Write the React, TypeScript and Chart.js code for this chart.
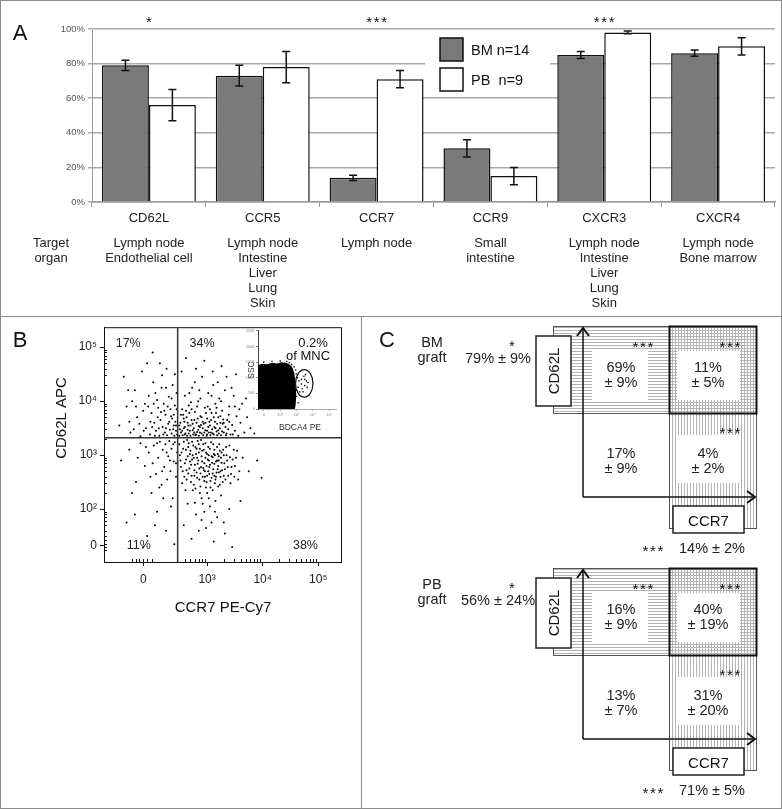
import React, { useEffect, useRef } from "react";
import { Chart, registerables } from "chart.js";

Chart.register(...registerables);

const FONT = '"Liberation Sans", Arial, Helvetica, sans-serif';

/* ---------------- Panel A data ---------------- */
const markers = ["CD62L", "CCR5", "CCR7", "CCR9", "CXCR3", "CXCR4"];
const bmMean = [79, 73, 14, 31, 85, 86];
const bmErr = [3, 6, 1.5, 5, 2, 1.8];
const pbMean = [56, 78, 71, 15, 98, 90];
const pbErr = [9, 9, 5, 5, 0.8, 5];
const seriesLabels = ["BM n=14", "PB  n=9"];
const significanceA = ["*", "", "***", "", "***", ""];
const targetOrgans = [
  ["Lymph node", "Endothelial cell"],
  ["Lymph node", "Intestine", "Liver", "Lung", "Skin"],
  ["Lymph node"],
  ["Small", "intestine"],
  ["Lymph node", "Intestine", "Liver", "Lung", "Skin"],
  ["Lymph node", "Bone marrow"],
];
const targetOrganTitle = ["Target", "organ"];

/* ---------------- Panel B data ---------------- */
// axis units: decades of the biexponential display
const flowXTickPos = [1.85, 3, 4, 5];
const flowXTickLabels = ["0", "10³", "10⁴", "10⁵"];
const flowYTickPos = [1.33, 2, 3, 4, 5];
const flowYTickLabels = ["0", "10²", "10³", "10⁴", "10⁵"];
const flowGate = [2.47, 3.32];
const quadrantPercents = ["17%", "34%", "11%", "38%"];
const flowXMinorNearZero = [1.64, 1.72, 1.78, 1.85, 1.92, 2.0];
const flowYMinorNearZero = [1.24, 1.29, 1.36, 1.42, 1.5];

type Pt = [number, number];
const flowUL: Pt[] = [
  [1.42, 3.55], [1.55, 3.9], [1.62, 3.42], [1.7, 4.2], [1.74, 3.7], [1.8, 3.35], [1.83, 4.55], [1.88, 3.95],
  [1.9, 3.5], [1.95, 4.1], [1.97, 3.38], [2.0, 3.78], [2.03, 4.35], [2.05, 3.6], [2.08, 3.45], [2.1, 4.02],
  [2.12, 3.88], [2.14, 3.36], [2.16, 3.65], [2.18, 4.25], [2.2, 3.52], [2.22, 3.95], [2.24, 3.42], [2.25, 3.75],
  [2.27, 4.6], [2.28, 3.37], [2.3, 3.58], [2.31, 4.08], [2.33, 3.47], [2.34, 3.85], [2.36, 3.4], [2.37, 3.68],
  [2.38, 4.3], [2.4, 3.55], [2.41, 3.36], [2.42, 3.92], [2.43, 3.62], [2.44, 3.45], [2.45, 4.15], [2.46, 3.38],
  [1.5, 4.45], [1.65, 4.0], [1.78, 3.58], [1.92, 4.7], [2.06, 3.36], [2.19, 4.48], [2.26, 3.5], [2.35, 3.72],
  [1.85, 3.82], [1.98, 3.62], [2.11, 3.7], [2.39, 3.48], [2.02, 4.9], [1.6, 3.62], [2.23, 3.82],
  [1.72, 3.9], [1.86, 3.45], [1.94, 3.9], [2.01, 3.52], [2.07, 4.15], [2.13, 3.5], [2.17, 3.8], [2.21, 3.38],
  [2.29, 3.9], [2.32, 3.62], [2.36, 4.05], [2.4, 3.75], [2.44, 3.55], [2.45, 3.85], [1.68, 3.48], [2.04, 3.95],
  [2.26, 4.25], [2.42, 4.5], [1.58, 4.2], [2.15, 4.7],
];
const flowUR: Pt[] = [
  [2.5, 3.36], [2.52, 3.6], [2.53, 3.42], [2.55, 3.85], [2.56, 3.37], [2.58, 3.5], [2.6, 4.1], [2.61, 3.4],
  [2.63, 3.7], [2.64, 3.36], [2.66, 3.55], [2.67, 3.92], [2.69, 3.45], [2.7, 3.36], [2.72, 3.65], [2.73, 4.25],
  [2.75, 3.38], [2.76, 3.5], [2.78, 3.8], [2.79, 3.37], [2.81, 3.6], [2.82, 3.43], [2.84, 4.0], [2.85, 3.36],
  [2.87, 3.52], [2.88, 3.72], [2.9, 3.4], [2.91, 4.45], [2.93, 3.37], [2.94, 3.58], [2.96, 3.88], [2.97, 3.46],
  [2.99, 3.36], [3.0, 3.68], [3.02, 4.15], [3.03, 3.42], [3.05, 3.55], [3.06, 3.37], [3.08, 3.78], [3.09, 3.48],
  [3.11, 4.3], [3.12, 3.38], [3.14, 3.62], [3.15, 3.95], [3.17, 3.44], [3.18, 3.37], [3.2, 3.7], [3.22, 4.05],
  [3.23, 3.5], [3.25, 3.37], [3.27, 3.82], [3.28, 3.58], [3.3, 3.42], [3.32, 4.2], [3.34, 3.37], [3.36, 3.65],
  [3.38, 3.48], [3.4, 3.9], [3.42, 3.38], [3.45, 3.56], [3.48, 4.1], [3.5, 3.45], [3.53, 3.72], [3.56, 3.36],
  [3.6, 3.6], [3.63, 3.95], [3.67, 3.42], [3.72, 3.7], [3.78, 3.5], [3.85, 3.4],
  [2.54, 4.55], [2.62, 4.8], [2.71, 3.98], [2.8, 4.6], [2.86, 4.2], [2.95, 4.75], [3.01, 3.9], [3.1, 4.55],
  [3.19, 4.35], [3.26, 4.65], [3.35, 4.45], [3.44, 4.25], [3.52, 4.5], [2.57, 3.75], [2.65, 3.47], [2.74, 3.58],
  [2.83, 3.68], [2.92, 3.5], [3.04, 3.62], [3.13, 3.52], [3.21, 3.4], [3.29, 3.66], [2.51, 3.48], [2.59, 3.62],
  [2.68, 3.78], [2.77, 3.42], [2.89, 3.56], [2.98, 3.78], [3.07, 3.42], [3.16, 3.78], [3.24, 3.6], [3.33, 3.52],
  [3.39, 3.75], [3.46, 3.38], [3.58, 3.85], [3.7, 4.05], [2.6, 3.52], [2.84, 3.47], [3.0, 3.45], [3.18, 3.58],
  [2.5, 3.55], [2.53, 3.75], [2.55, 3.45], [2.58, 3.68], [2.6, 3.38], [2.62, 3.82], [2.65, 3.6], [2.67, 3.4],
  [2.7, 3.55], [2.72, 3.85], [2.74, 3.46], [2.77, 3.65], [2.8, 3.38], [2.82, 3.9], [2.85, 3.54], [2.87, 3.42],
  [2.9, 3.7], [2.92, 3.62], [2.95, 3.42], [2.97, 3.6], [3.0, 3.38], [3.02, 3.52], [3.05, 3.85], [3.07, 3.65],
  [3.1, 3.4], [3.12, 3.7], [3.15, 3.5], [3.17, 3.88], [3.2, 3.46], [3.24, 3.72], [3.27, 3.44], [3.3, 3.6],
  [3.35, 3.4], [3.4, 3.62], [3.5, 3.9], [2.68, 4.15], [2.88, 4.05], [3.08, 4.1], [2.78, 4.35], [3.25, 4.0],
];
const flowLL: Pt[] = [
  [1.45, 2.9], [1.6, 3.1], [1.72, 2.5], [1.8, 3.22], [1.88, 2.8], [1.95, 3.05], [2.0, 2.3], [2.04, 3.18],
  [2.08, 2.65], [2.12, 2.95], [2.15, 3.25], [2.18, 2.45], [2.2, 3.1], [2.23, 2.78], [2.25, 3.2], [2.28, 2.55],
  [2.3, 2.98], [2.32, 3.26], [2.34, 2.7], [2.36, 3.12], [2.38, 2.2], [2.4, 2.88], [2.42, 3.24], [2.44, 2.6],
  [2.46, 3.05], [1.55, 1.75], [1.7, 1.9], [1.92, 1.5], [2.1, 1.95], [2.26, 1.6], [2.35, 2.05], [1.98, 2.6],
  [2.14, 2.4], [2.41, 1.35], [1.85, 1.3],
  [1.75, 2.95], [1.9, 3.15], [2.02, 2.85], [2.1, 3.22], [2.19, 2.7], [2.27, 3.05], [2.33, 2.9], [2.39, 3.2],
  [2.44, 2.85], [2.21, 2.2], [2.06, 1.7], [1.65, 2.3],
];
const flowLR: Pt[] = [
  [2.5, 3.2], [2.52, 2.9], [2.54, 3.05], [2.56, 2.7], [2.58, 3.25], [2.6, 2.85], [2.62, 3.1], [2.63, 2.55],
  [2.65, 2.98], [2.67, 3.22], [2.68, 2.75], [2.7, 3.08], [2.72, 2.62], [2.73, 2.92], [2.75, 3.18], [2.76, 2.45],
  [2.78, 2.82], [2.8, 3.02], [2.81, 2.68], [2.83, 3.26], [2.84, 2.9], [2.86, 2.55], [2.87, 3.12], [2.89, 2.78],
  [2.9, 2.98], [2.92, 2.6], [2.93, 3.2], [2.95, 2.85], [2.96, 2.7], [2.98, 3.05], [2.99, 2.5], [3.01, 2.92],
  [3.02, 3.15], [3.04, 2.65], [3.05, 2.82], [3.07, 3.24], [3.08, 2.58], [3.1, 2.96], [3.11, 2.74], [3.13, 3.1],
  [3.14, 2.48], [3.16, 2.88], [3.17, 2.68], [3.19, 3.02], [3.2, 2.8], [3.22, 3.2], [3.24, 2.6], [3.25, 2.95],
  [3.27, 2.72], [3.29, 3.1], [3.31, 2.85], [3.33, 2.55], [3.35, 3.0], [3.37, 2.78], [3.4, 3.18], [3.43, 2.65],
  [3.46, 2.92], [3.5, 2.8], [3.54, 3.08], [3.58, 2.7],
  [2.55, 2.48], [2.61, 2.35], [2.66, 3.15], [2.71, 2.5], [2.74, 3.0], [2.79, 2.38], [2.82, 2.95], [2.85, 3.2],
  [2.88, 2.42], [2.91, 3.08], [2.94, 2.72], [2.97, 2.95], [3.0, 2.62], [3.03, 3.0], [3.06, 2.4], [3.09, 2.86],
  [3.12, 3.02], [3.15, 2.55], [3.18, 2.9], [3.21, 2.68], [3.23, 2.45], [3.26, 3.05], [3.3, 2.62], [3.36, 2.9],
  [3.42, 2.48], [3.48, 3.1], [3.56, 2.55], [3.64, 2.95], [3.75, 2.7], [3.9, 2.9], [3.98, 2.58], [2.69, 2.88],
  [2.77, 2.62], [2.86, 2.75], [2.95, 2.52], [3.04, 2.78], [3.13, 2.62], [3.21, 2.98], [2.63, 2.72], [2.81, 3.12],
  [2.65, 2.1], [2.8, 1.9], [2.9, 2.2], [2.98, 1.65], [3.05, 2.05], [3.12, 1.4], [3.18, 1.85], [3.25, 2.25],
  [3.32, 1.55], [3.4, 2.0], [2.72, 1.45], [2.95, 1.95], [3.08, 1.75], [3.45, 1.3], [2.58, 1.7], [3.0, 2.3],
  [3.15, 2.15], [2.85, 1.6], [3.6, 2.15], [3.3, 1.75],
  [2.51, 3.0], [2.53, 2.78], [2.57, 3.12], [2.59, 2.6], [2.62, 2.92], [2.64, 3.28], [2.66, 2.66], [2.69, 3.02],
  [2.71, 2.82], [2.73, 3.25], [2.76, 2.95], [2.77, 2.72], [2.79, 3.15], [2.82, 2.58], [2.83, 2.84], [2.85, 3.05],
  [2.88, 2.66], [2.89, 3.28], [2.91, 2.88], [2.93, 2.76], [2.94, 3.1], [2.96, 2.6], [2.97, 3.22], [2.99, 2.8],
  [3.0, 3.02], [3.02, 2.7], [3.03, 2.9], [3.05, 3.12], [3.06, 2.52], [3.08, 2.98], [3.1, 2.66], [3.11, 3.2],
  [3.13, 2.84], [3.14, 3.0], [3.16, 2.6], [3.18, 3.15], [3.19, 2.74], [3.21, 2.9], [3.23, 3.08], [3.24, 2.7],
  [3.26, 2.86], [3.28, 2.5], [3.3, 3.0], [3.32, 2.74], [3.34, 3.15], [3.38, 2.62], [3.41, 2.96], [3.44, 2.78],
  [3.49, 2.6], [3.52, 2.95], [2.74, 2.35], [2.87, 2.3], [2.98, 2.4], [3.1, 2.35], [3.2, 2.42], [2.92, 2.1],
  [3.03, 2.2], [2.78, 2.12], [3.14, 1.95], [2.9, 1.8],
];

/* inset (BDCA4 PE vs SSC) */
const insetXTickPos = [1, 2, 3, 4, 5];
const insetXTickLabels = ["0", "10²", "10³", "10⁴", "10⁵"];
const insetYTicks = [0, 50, 100, 150, 200, 250];
const insetBlobX = [0.65, 0.65, 0.9, 1.2, 1.5, 1.8, 2.1, 2.4, 2.6, 2.75, 2.85, 2.9, 2.95, 2.98, 2.95, 2.9, 0.65];
const insetBlobY = [0, 140, 145, 143, 148, 146, 150, 147, 142, 132, 118, 100, 75, 45, 15, 0, 0];
const insetDots: Pt[] = [
  [2.95, 125], [3.05, 100], [3.1, 70], [3.0, 40], [2.98, 112], [3.15, 90], [3.1, 20], [2.85, 135],
  [2.7, 142], [2.4, 152], [2.0, 154], [1.5, 153], [1.0, 150], [3.2, 55], [2.55, 148], [3.02, 60],
  [3.3, 95], [3.45, 105], [3.6, 90], [3.5, 75], [3.35, 65], [3.65, 70], [3.55, 110], [3.4, 55],
  [3.7, 85], [3.3, 80], [3.5, 95],
];
const insetGateCenter = [3.47, 82];
const insetGateRadius = [0.53, 44];
const insetGateText = ["0.2%", "of MNC"];

/* ---------------- Panel C data ---------------- */
const cGroups = [["BM", "graft"], ["PB", "graft"]];
const cCD62LTotal: Pt[] = [[79, 9], [56, 24]];
const cCCR7Total: Pt[] = [[14, 2], [71, 5]];
const cCD62LOnly: Pt[] = [[69, 9], [16, 9]];
const cDoublePos: Pt[] = [[11, 5], [40, 19]];
const cCCR7Only: Pt[] = [[4, 2], [31, 20]];
const cDoubleNeg: Pt[] = [[17, 9], [13, 7]];
const cSigCD62LTotal = ["*", "*"];
const cSigQuadrants = ["***", "***"];
const cSigCCR7Total = ["***", "***"];

/* ---------------- helpers ---------------- */
function drawStars(ctx: any, text: string, cx: number, cy: number, size = 15, gap = 7.5) {
  const n = text.length;
  ctx.font = `${size}px ${FONT}`;
  ctx.textAlign = "center";
  ctx.textBaseline = "alphabetic";
  for (let k = 0; k < n; k++) ctx.fillText("*", cx + (k - (n - 1) / 2) * gap, cy + size * 0.58);
}

function ChartCanvas({ left, top, width, height, make }: any) {
  const ref = useRef<HTMLCanvasElement>(null);
  useEffect(() => {
    const chart = new Chart(ref.current as HTMLCanvasElement, make());
    return () => chart.destroy();
  }, []);
  return (
    <canvas
      ref={ref}
      width={width}
      height={height}
      style={{ position: "absolute", left, top, width, height }}
    />
  );
}

/* ---------------- Panel A chart ---------------- */
function makeBarConfig(): any {
  const errs = [bmErr, pbErr];
  const decor = {
    id: "decorA",
    afterDatasetsDraw(chart: any) {
      const { ctx } = chart;
      const y = chart.scales.y;
      const x = chart.scales.x;
      ctx.save();
      ctx.strokeStyle = "#111";
      ctx.lineWidth = 1.5;
      chart.data.datasets.forEach((ds: any, di: number) => {
        const meta = chart.getDatasetMeta(di);
        meta.data.forEach((bar: any, i: number) => {
          const v = ds.data[i];
          const e = errs[di][i];
          const px = bar.x;
          const yt = y.getPixelForValue(v + e);
          const yb = y.getPixelForValue(v - e);
          ctx.beginPath();
          ctx.moveTo(px, yt);
          ctx.lineTo(px, yb);
          ctx.moveTo(px - 4, yt);
          ctx.lineTo(px + 4, yt);
          ctx.moveTo(px - 4, yb);
          ctx.lineTo(px + 4, yb);
          ctx.stroke();
        });
      });
      // legend
      ctx.fillStyle = "#fff";
      ctx.fillRect(425, 31, 125, 66);
      chart.data.datasets.forEach((ds: any, di: number) => {
        const by = 38 + di * 30;
        ctx.fillStyle = ds.backgroundColor;
        ctx.fillRect(440, by, 23, 23);
        ctx.lineWidth = 1.5;
        ctx.strokeStyle = "#111";
        ctx.strokeRect(440, by, 23, 23);
        ctx.fillStyle = "#111";
        ctx.font = `14.5px ${FONT}`;
        ctx.textAlign = "left";
        ctx.textBaseline = "middle";
        ctx.fillText(ds.label, 471, by + 13);
      });
      // significance
      ctx.fillStyle = "#111";
      significanceA.forEach((s, i) => {
        if (s) drawStars(ctx, s, x.getPixelForValue(i), 18, 15, 7.5);
      });
      // target organs
      ctx.font = `13px ${FONT}`;
      ctx.textAlign = "center";
      ctx.textBaseline = "middle";
      ctx.fillStyle = "#222";
      targetOrgans.forEach((lines, i) => {
        const px = x.getPixelForValue(i);
        lines.forEach((t, k) => ctx.fillText(t, px, 243 + k * 15));
      });
      targetOrganTitle.forEach((t, k) => ctx.fillText(t, 51, 243 + k * 15));
      ctx.restore();
    },
  };
  return {
    type: "bar",
    data: {
      labels: markers,
      datasets: [
        { label: seriesLabels[0], data: bmMean, backgroundColor: "#7a7a7a", borderColor: "#111", borderWidth: 1.5 },
        { label: seriesLabels[1], data: pbMean, backgroundColor: "#ffffff", borderColor: "#111", borderWidth: 1.5 },
      ],
    },
    options: {
      animation: false,
      responsive: false,
      events: [],
      layout: { padding: { top: 29, right: 7, left: 0, bottom: 0 } },
      datasets: { bar: { categoryPercentage: 0.825, barPercentage: 1 } },
      plugins: { legend: { display: false }, tooltip: { enabled: false } },
      scales: {
        x: {
          grid: { display: true, drawOnChartArea: false, offset: true, color: "#999", tickLength: 5, lineWidth: 1 },
          border: { color: "#999", width: 1.5 },
          ticks: { font: { family: FONT, size: 13 }, color: "#222", padding: 4, maxRotation: 0, autoSkip: false },
          afterFit: (s: any) => {
            s.height = 114;
          },
        },
        y: {
          min: 0,
          max: 100,
          ticks: {
            stepSize: 20,
            callback: (v: any) => v + "%",
            font: { family: FONT, size: 9.5 },
            color: "#555",
            padding: 3,
          },
          grid: { color: "#a9a9a9", lineWidth: 1.5, tickLength: 4 },
          border: { color: "#999", width: 1 },
          afterFit: (s: any) => {
            s.width = 92;
          },
        },
      },
    },
    plugins: [decor],
  };
}

/* ---------------- Panel B chart ---------------- */
function makeFlowConfig(): any {
  const minorSteps = [2, 3, 4, 5, 6, 7, 8, 9];
  const xMinor: number[] = [...flowXMinorNearZero];
  [4, 5, 6, 7, 8, 9].forEach((k) => xMinor.push(2 + Math.log10(k)));
  [3, 4].forEach((d) => minorSteps.forEach((k) => xMinor.push(d + Math.log10(k))));
  const yMinor: number[] = [...flowYMinorNearZero];
  [4, 5, 6, 7, 8, 9].forEach((k) => yMinor.push(1 + Math.log10(k)));
  [2, 3, 4].forEach((d) => minorSteps.forEach((k) => yMinor.push(d + Math.log10(k))));

  const decor = {
    id: "decorB",
    afterDraw(chart: any) {
      const { ctx, chartArea: a } = chart;
      const { x, y } = chart.scales;
      ctx.save();
      ctx.strokeStyle = "#111";
      ctx.lineWidth = 1;
      ctx.beginPath();
      ctx.moveTo(a.left, a.top + 0.5);
      ctx.lineTo(a.right + 0.5, a.top + 0.5);
      ctx.lineTo(a.right + 0.5, a.bottom);
      ctx.stroke();
      // minor ticks
      ctx.beginPath();
      xMinor.forEach((v) => {
        const px = Math.round(x.getPixelForValue(v)) + 0.5;
        ctx.moveTo(px, a.bottom);
        ctx.lineTo(px, a.bottom - 3);
      });
      yMinor.forEach((v) => {
        const py = Math.round(y.getPixelForValue(v)) + 0.5;
        ctx.moveTo(a.left, py);
        ctx.lineTo(a.left + 3, py);
      });
      ctx.stroke();
      // gates
      ctx.strokeStyle = "#333";
      ctx.lineWidth = 1.5;
      const gx = x.getPixelForValue(flowGate[0]);
      const gy = y.getPixelForValue(flowGate[1]);
      ctx.beginPath();
      ctx.moveTo(gx, a.top);
      ctx.lineTo(gx, a.bottom);
      ctx.moveTo(a.left, gy);
      ctx.lineTo(a.right, gy);
      ctx.stroke();
      // quadrant labels
      ctx.fillStyle = "#222";
      ctx.font = `12.5px ${FONT}`;
      ctx.textAlign = "center";
      ctx.textBaseline = "middle";
      const spots: Pt[] = [[1.58, 5.07], [2.91, 5.07], [1.77, 1.33], [4.77, 1.33]];
      spots.forEach(([vx, vy], i) => ctx.fillText(quadrantPercents[i], x.getPixelForValue(vx), y.getPixelForValue(vy)));
      // axis titles
      ctx.font = `15px ${FONT}`;
      ctx.fillStyle = "#111";
      ctx.fillText("CCR7 PE-Cy7", (a.left + a.right) / 2 + 0.5, 291);
      ctx.translate(62, 101);
      ctx.rotate(-Math.PI / 2);
      ctx.fillText("CD62L APC", 0, 0);
      ctx.restore();
    },
  };

  const allPts = [...flowUL, ...flowUR, ...flowLL, ...flowLR];
  return {
    type: "scatter",
    data: {
      datasets: [
        {
          data: allPts.map(([px, py]) => ({ x: px, y: py })),
          pointRadius: 1,
          pointBorderWidth: 0,
          pointBackgroundColor: "#000",
        },
      ],
    },
    options: {
      animation: false,
      responsive: false,
      events: [],
      layout: { padding: { top: 10, right: 20, left: 0, bottom: 0 } },
      plugins: { legend: { display: false }, tooltip: { enabled: false } },
      scales: {
        x: {
          type: "linear",
          min: 1.144,
          max: 5.41,
          afterBuildTicks: (s: any) => {
            s.ticks = flowXTickPos.map((v) => ({ value: v }));
          },
          ticks: {
            callback: (v: any) => flowXTickLabels[flowXTickPos.indexOf(v)],
            font: { family: FONT, size: 12 },
            color: "#222",
            padding: 6,
            maxRotation: 0,
            autoSkip: false,
          },
          grid: { display: true, drawOnChartArea: false, color: "#111", tickLength: 4 },
          border: { display: true, color: "#111", width: 1 },
          afterFit: (s: any) => {
            s.height = 247;
          },
        },
        y: {
          type: "linear",
          min: 1.02,
          max: 5.37,
          afterBuildTicks: (s: any) => {
            s.ticks = flowYTickPos.map((v) => ({ value: v }));
          },
          ticks: {
            callback: (v: any) => flowYTickLabels[flowYTickPos.indexOf(v)],
            font: { family: FONT, size: 12 },
            color: "#222",
            padding: 3,
            autoSkip: false,
          },
          grid: { display: true, drawOnChartArea: false, color: "#111", tickLength: 4 },
          border: { display: true, color: "#111", width: 1 },
          afterFit: (s: any) => {
            s.width = 104;
          },
        },
      },
    },
    plugins: [decor],
  };
}

/* ---------------- Inset chart ---------------- */
function makeInsetConfig(): any {
  const decor = {
    id: "decorInset",
    beforeDraw(chart: any) {
      const { ctx, chartArea: a } = chart;
      ctx.save();
      ctx.fillStyle = "#fff";
      ctx.fillRect(a.left, a.top, chart.width - a.left, chart.height - a.top);
      ctx.restore();
    },
    beforeDatasetsDraw(chart: any) {
      const { ctx } = chart;
      const { x, y } = chart.scales;
      ctx.save();
      ctx.fillStyle = "#000";
      ctx.beginPath();
      insetBlobX.forEach((vx, i) => {
        const px = x.getPixelForValue(vx);
        const py = y.getPixelForValue(insetBlobY[i]);
        if (i === 0) ctx.moveTo(px, py);
        else ctx.lineTo(px, py);
      });
      ctx.closePath();
      ctx.fill();
      ctx.restore();
    },
    afterDraw(chart: any) {
      const { ctx } = chart;
      const { x, y } = chart.scales;
      ctx.save();
      const cx = x.getPixelForValue(insetGateCenter[0]);
      const cy = y.getPixelForValue(insetGateCenter[1]);
      const rx = Math.abs(x.getPixelForValue(insetGateCenter[0] + insetGateRadius[0]) - cx);
      const ry = Math.abs(y.getPixelForValue(insetGateCenter[1] + insetGateRadius[1]) - cy);
      ctx.strokeStyle = "#111";
      ctx.lineWidth = 1.2;
      ctx.beginPath();
      ctx.ellipse(cx, cy, rx, ry, 0, 0, Math.PI * 2);
      ctx.stroke();
      ctx.fillStyle = "#111";
      ctx.font = `13px ${FONT}`;
      ctx.textAlign = "center";
      ctx.textBaseline = "middle";
      ctx.fillText(insetGateText[0], 67, 17);
      ctx.fillText(insetGateText[1], 62, 30);
      ctx.font = `8.5px ${FONT}`;
      ctx.fillStyle = "#333";
      ctx.fillText("BDCA4 PE", 54, 102);
      ctx.translate(6, 44);
      ctx.rotate(-Math.PI / 2);
      ctx.fillText("SSC", 0, 0);
      ctx.restore();
    },
  };
  return {
    type: "scatter",
    data: {
      datasets: [
        {
          data: insetDots.map(([px, py]) => ({ x: px, y: py })),
          pointRadius: 0.8,
          pointBorderWidth: 0,
          pointBackgroundColor: "#000",
        },
      ],
    },
    options: {
      animation: false,
      responsive: false,
      events: [],
      layout: { padding: { top: 3, right: 1, left: 0, bottom: 0 } },
      plugins: { legend: { display: false }, tooltip: { enabled: false } },
      scales: {
        x: {
          type: "linear",
          min: 0.647,
          max: 5.41,
          afterBuildTicks: (s: any) => {
            s.ticks = insetXTickPos.map((v) => ({ value: v }));
          },
          ticks: {
            callback: (v: any) => insetXTickLabels[insetXTickPos.indexOf(v)],
            font: { family: FONT, size: 4 },
            color: "#888",
            padding: 1,
            maxRotation: 0,
            autoSkip: false,
          },
          grid: { display: true, drawOnChartArea: false, color: "#aaa", tickLength: 2 },
          border: { display: true, color: "#aaa", width: 1 },
          afterFit: (s: any) => {
            s.height = 24;
          },
        },
        y: {
          type: "linear",
          min: 0,
          max: 253,
          afterBuildTicks: (s: any) => {
            s.ticks = insetYTicks.map((v) => ({ value: v }));
          },
          ticks: {
            callback: (v: any) => (v === 0 ? "0" : v + "K"),
            font: { family: FONT, size: 4 },
            color: "#888",
            padding: 1,
            autoSkip: false,
          },
          grid: { display: true, drawOnChartArea: false, color: "#888", tickLength: 2 },
          border: { display: true, color: "#444", width: 1 },
          afterFit: (s: any) => {
            s.width = 12;
          },
        },
      },
    },
    plugins: [decor],
  };
}

/* ---------------- Panel C (schematic) ---------------- */
const fmtPct = (p: Pt) => [`${p[0]}%`, `± ${p[1]}%`];

function Stars({ x, y, text }: { x: number; y: number; text: string }) {
  const n = text.length;
  return (
    <g>
      {Array.from(text).map((_, k) => (
        <text key={k} x={x + (k - (n - 1) / 2) * 7.5} y={y + 8.7} fontSize={15} textAnchor="middle" fill="#111">
          *
        </text>
      ))}
    </g>
  );
}

function Cell({ x, y, p }: { x: number; y: number; p: Pt }) {
  const [a, b] = fmtPct(p);
  return (
    <g>
      <text x={x} y={y} textAnchor="middle" dominantBaseline="central" fontSize={14.5} fill="#222">
        {a}
      </text>
      <text x={x} y={y + 15} textAnchor="middle" dominantBaseline="central" fontSize={14.5} fill="#222">
        {b}
      </text>
    </g>
  );
}

function CGroup({ g, dy }: { g: number; dy: number }) {
  const t = (p: Pt) => `${p[0]}% ± ${p[1]}%`;
  return (
    <g transform={`translate(0 ${dy})`}>
      <text x={432} y={342} textAnchor="middle" dominantBaseline="central" fontSize={14.5} fill="#222">
        {cGroups[g][0]}
      </text>
      <text x={432} y={357} textAnchor="middle" dominantBaseline="central" fontSize={14.5} fill="#222">
        {cGroups[g][1]}
      </text>
      <Stars x={512} y={342} text={cSigCD62LTotal[g]} />
      <text x={498} y={358} textAnchor="middle" dominantBaseline="central" fontSize={14.5} fill="#222">
        {t(cCD62LTotal[g])}
      </text>

      <rect x={553.5} y={326.5} width={203} height={87} fill="url(#hl)" stroke="#555" strokeWidth={1} />
      <rect x={669.5} y={326.5} width={87} height={202} fill="url(#vl)" stroke="#555" strokeWidth={1} />
      <rect x={592} y={351} width={56} height={49} fill="#fff" />
      <rect x={677} y={351} width={63} height={49} fill="#fff" />
      <rect x={677} y={435} width={63} height={48} fill="#fff" />
      <rect x={669.5} y={326.5} width={87} height={87} fill="none" stroke="#111" strokeWidth={2} />

      <line x1={583} y1={497} x2={583} y2={329} stroke="#111" strokeWidth={1.5} />
      <polyline points="577,336 583,328 589,336" fill="none" stroke="#111" strokeWidth={2} />
      <line x1={583} y1={497} x2={754} y2={497} stroke="#111" strokeWidth={1.5} />
      <polyline points="747,491 755,497 747,503" fill="none" stroke="#111" strokeWidth={2} />

      <rect x={536} y={336} width={35} height={70} fill="#fff" stroke="#222" strokeWidth={1.5} />
      <text
        x={553.5}
        y={371}
        textAnchor="middle"
        dominantBaseline="central"
        fontSize={15}
        fill="#111"
        transform="rotate(-90 553.5 371)"
      >
        CD62L
      </text>
      <rect x={673} y={506} width={71} height={27} fill="#fff" stroke="#222" strokeWidth={1.5} />
      <text x={708.5} y={520} textAnchor="middle" dominantBaseline="central" fontSize={15} fill="#111">
        CCR7
      </text>

      <Stars x={643} y={343} text={cSigQuadrants[g]} />
      <Cell x={621} y={367} p={cCD62LOnly[g]} />
      <Stars x={730} y={343} text={cSigQuadrants[g]} />
      <Cell x={708} y={367} p={cDoublePos[g]} />
      <Stars x={730} y={429} text={cSigQuadrants[g]} />
      <Cell x={708} y={453} p={cCCR7Only[g]} />
      <Cell x={621} y={453} p={cDoubleNeg[g]} />
      <Stars x={653} y={547} text={cSigCCR7Total[g]} />
      <text x={712} y={548} textAnchor="middle" dominantBaseline="central" fontSize={14.5} fill="#222">
        {t(cCCR7Total[g])}
      </text>
    </g>
  );
}

function PanelC() {
  return (
    <svg
      width={782}
      height={809}
      style={{ position: "absolute", left: 0, top: 0, pointerEvents: "none" }}
      fontFamily={FONT}
    >
      <defs>
        <pattern id="hl" width="4" height="3" patternUnits="userSpaceOnUse">
          <rect x="0" y="0" width="4" height="1" fill="#b3b3b3" />
        </pattern>
        <pattern id="vl" width="3" height="4" patternUnits="userSpaceOnUse">
          <rect x="0" y="0" width="1" height="4" fill="#b3b3b3" />
        </pattern>
      </defs>
      <CGroup g={0} dy={0} />
      <CGroup g={1} dy={242} />
    </svg>
  );
}

const letterStyle: any = {
  position: "absolute",
  fontFamily: FONT,
  fontSize: 22,
  color: "#111",
  lineHeight: "22px",
  transform: "translate(-50%, -50%)",
};

export default function App() {
  useEffect(() => {
    document.body.style.margin = "0";
  }, []);
  return (
    <div
      style={{
        position: "absolute",
        left: 0,
        top: 0,
        width: 782,
        height: 809,
        background: "#fff",
        boxSizing: "border-box",
        border: "1px solid #8c8c8c",
        overflow: "hidden",
      }}
    >
      <div style={{ position: "absolute", left: 0, top: 315, width: 782, height: 1, background: "#8c8c8c" }} />
      <div style={{ position: "absolute", left: 360, top: 315, width: 1, height: 494, background: "#8c8c8c" }} />
      <ChartCanvas left={-1} top={-1} width={782} height={316} make={makeBarConfig} />
      <ChartCanvas left={-1} top={316} width={361} height={492} make={makeFlowConfig} />
      <ChartCanvas left={245} top={325} width={94} height={107} make={makeInsetConfig} />
      <div style={{ position: "absolute", left: -1, top: -1, width: 782, height: 809 }}>
        <PanelC />
      </div>
      <div style={{ ...letterStyle, left: 19, top: 32 }}>A</div>
      <div style={{ ...letterStyle, left: 19, top: 339 }}>B</div>
      <div style={{ ...letterStyle, left: 386, top: 339 }}>C</div>
    </div>
  );
}
